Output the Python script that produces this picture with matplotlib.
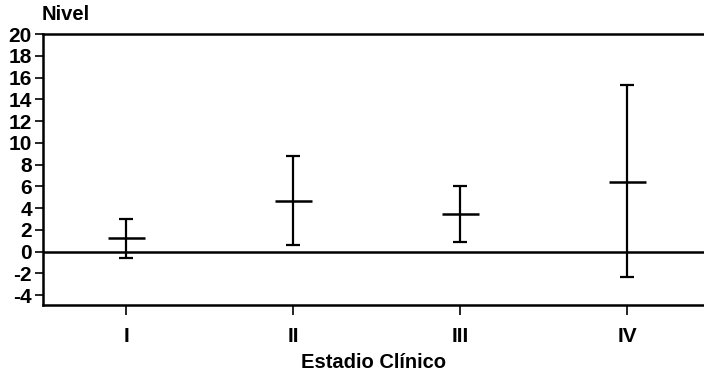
import numpy as np
import matplotlib.pyplot as plt

# Datos
estadios = ['I', 'II', 'III', 'IV']
media = [1.3, 4.7, 3.5, 6.4]
superior = [3.0, 8.8, 6.0, 15.3]
inferior = [-0.6, 0.6, 0.85, -2.3]

plt.rcParams['font.family'] = ['Liberation Sans', 'DejaVu Sans']
plt.rcParams['font.weight'] = 'bold'
plt.rcParams['axes.unicode_minus'] = False

fig = plt.figure(figsize=(7.04, 3.71), dpi=100)
ax = fig.add_axes([43 / 704, 1 - 305 / 371, 1 - 43 / 704, (305 - 34) / 371])

x = np.arange(1, len(estadios) + 1)
media = np.array(media)
err = [media - np.array(inferior), np.array(superior) - media]

# Barras de error
ax.errorbar(x, media, yerr=err, fmt='none', ecolor='black',
            elinewidth=1.6, capsize=5, capthick=1.6)
# Marca de la media
ax.hlines(media, x - 0.11, x + 0.11, color='black', linewidth=1.8)

# Linea de referencia en cero
ax.axhline(0, color='black', linewidth=1.8)

ax.set_xlim(0.5, 4.46)
ax.set_ylim(-4.9, 20)
ax.set_yticks(np.arange(-4, 21, 2))
ax.set_xticks(x)
ax.set_xticklabels(estadios)

for s in ['left', 'top', 'bottom']:
    ax.spines[s].set_linewidth(1.8)
ax.spines['right'].set_visible(False)

ax.tick_params(axis='y', direction='out', length=6, width=1.2, labelsize=15, pad=2)
ax.tick_params(axis='x', direction='out', length=7, width=1.2, labelsize=15, pad=9)

ax.set_xlabel('Estadio Clínico', fontsize=14.5, fontweight='bold', labelpad=5)
fig.text(42 / 704, 1 - 14 / 371, 'Nivel', fontsize=14.5, fontweight='bold', va='center', ha='left')

plt.savefig('out.png', dpi=100)
